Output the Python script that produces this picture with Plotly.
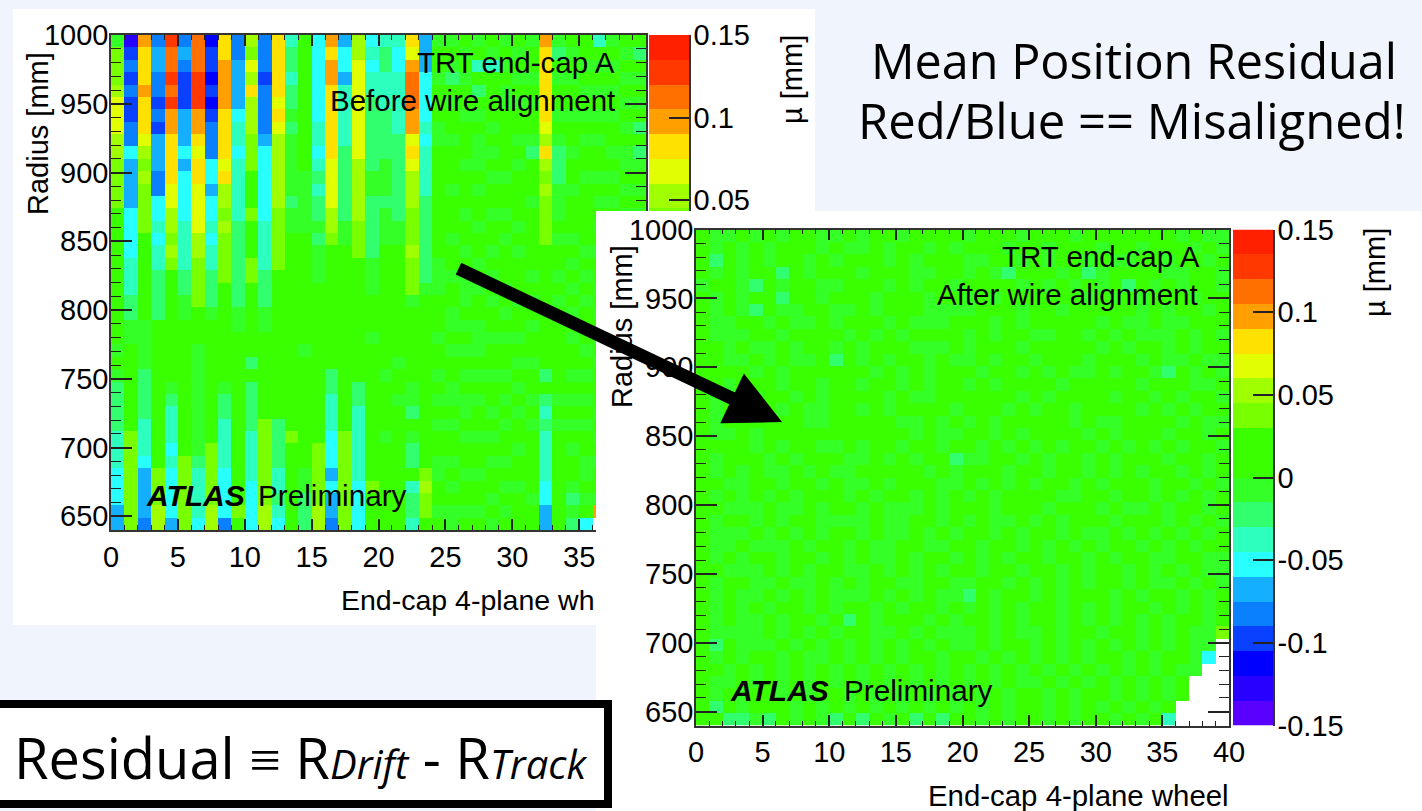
import numpy as np
import plotly.graph_objects as go

W, H = 1422, 811

# colour levels of the 20-step palette, lowest to highest
LEVEL_COLORS = ["#5a00ff", "#2800ff", "#0000ff", "#0a40ff", "#0a80ff", "#14b0ff", "#28ffff",
                "#2dffbe", "#32ff6e", "#34ff26", "#3aff00", "#3aff00", "#78ff00", "#a0ff00",
                "#e1ff00", "#ffe100", "#ffa000", "#ff7000", "#ff3800", "#ff2000"]
LEVEL_CODES = "0123456789abcdefghij"
Z_MIN, Z_MAX = -0.15, 0.15

# BEFORE alignment: one string per wheel (column), top to bottom, one level code per radial bin
before_columns = [
    "9cccd eeedd ccccb baaaa aaaaa 9a988 88777 66655",
    "13434 33446 55556 66677 78899 aaaaa aaccc ccccc",
    "gfffg fffed cdccc caaaa aaa99 99888 87776 55554",
    "45544 34355 54466 76778 888aa aaaaa aaaaa cccdd",
    "ihhih iggff ffeed dcdca aaaaa aaa98 77767 66665",
    "45433 35556 56666 77778 899aa aaaaa aaaac ccccc",
    "hhhii iggfe ffeee eddcc ccaaa 99999 99998 77776",
    "23323 23444 66566 76778 889aa aaaaa aaacc cccdd",
    "ffggg gffff efddc dcccc aaaaa aaa98 87777 66664",
    "44555 56776 77777 88888 8899a aaaaa aaaaa aaaca",
    "dcedf dddcc cbbbc bbbcc aaaaa a8a88 88777 76666",
    "44434 44456 66666 77778 8899a aaaaa acccc cccdd",
    "fffff efedd ddddc ccccb aaaaa aaaaa a8888 77876",
    "78878 89899 99989 9aaaa aaaaa aaaaa aacaa aaaaa",
    "aaaaa aaaaa a9999 9aaaa aaaaa 9aaaa aaaaa 99888",
    "66666 66776 78788 98999 aaaaa aaaaa aaacc cccdd",
    "gfggf fffff eeeed dcaaa aaaaa aa887 77666 56554",
    "56657 77778 88888 99aaa aaaaa aaaaa aaccc ccccc",
    "ddeee eeeee ddddd cccaa aaaaa aaa88 77777 76666",
    "67677 88888 89988 88899 9aaa9 aaaaa aaaaa acaaa",
    "78877 78888 99989 99aaa aaaaa aa9aa aa9aa aaaaa",
    "76677 77788 88888 99aaa aaaaa a9aa9 aaaaa aaaaa",
    "feghh hggef edddc ccdcc c9aaa aaa99 8a988 a7887",
    "55566 66767 77788 88888 9aaaa aaaaa aaaaa cdcca",
    "9aa9a aa99a aaaaa aaa99 9aaa9 aa9a9 a9aa9 9aa9a",
    "9a98a 9aa9a aa9aa a9aa9 aa99a 9aa99 a9aa9 a9a99",
    "a9a9a a9aaa 9aaa9 aa9a9 99a9a 9a9a9 9a9aa 9aa9a",
    "9a7a8 a9a99 9a9aa 9aa9a 9aa99 9a9a9 aa9aa 9aa9a",
    "a97aa aa9a9 a9aa9 aa9a9 a9aa9 aa9aa 9a9a9 aa9a9",
    "9a9a9 9aaaa a9aa9 a9aaa 9a9a9 aa9a9 a9aa9 a9a9a",
    "a9a9a 9aa9a 9aaaa 9a9aa a9aa9 a9a9a 9aa9a a9aaa",
    "9aa9a 9aa98 aaa9a aaaa9 a9a9a a9aa9 a9aaa aa9aa",
    "gffff ffedf dcdcc ccaaa aaaaa aa8a8 78777 76655",
    "98a9a a9a98 88999 a9aa9 a9aaa aaaa9 a9aaa aaaaa",
    "a9a9a a9aa9 aa9aa a9a9a 9a9a9 aa9a9 a9a9a a9898",
    "aa9a9 a9a9a a9aaa aa9a9 a9aaa 9a9a9 a9aa9 9a9a6",
    "7a9a9 a9a9a a9a9a 9a9aa 9a9a9 a9aaa 9a9a9 aa9g.",
    "9a9a9 a9aa9 a9a9a a9a9a aaaaa aaaaa aaaaa aaaaa",
    "a9a9a 9a9a9 9a9a9 aaaaa aaaaa aaaaa aaaaa aaaaa",
    "a8a9a 9a8a8 9a9a9 aaaaa aaaaa aaaaa aaaaa aaaaa",
]

# AFTER alignment: one string per radial bin (row), top to bottom, one level code per wheel
after_rows = [
    "a99a9 a9aa9 9a9aa 9aaaa 9aaa9 aaa9a aaaaa a9a99",
    "a9a9a 9aaa9 a99a9 aa9a9 aaa9a a9aaa 9aa9a aa9a9",
    "a8a9a 9aa9a 9aaa9 a9aaa 99aa9 a9aa9 a99aa 9aa9a",
    "a9a9a a8a9a aa9aa a99aa 9a98a aa9a8 9aaaa 99aa9",
    "9aa98 a9aa9 9aaa9 a9aa9 aaaa9 a9a9a 9a8a9 a9aa9",
    "a9a9a a8aa9 aaa9a aa9aa 9a9aa aaaa9 a9a9a aa9aa",
    "a9a98 a99aa 99a9a aa999 9aaa9 aa9aa aaa9a 9aa9a",
    "a99aa 9a99a 9aaa9 a999a aa9a9 aaaaa 9a99a 99aaa",
    "a999a a9aaa a9a9a 9aaaa 9a9aa 99aa9 a9a99 9a9a9",
    "aa9a9 9a9aa 9a9aa a999a 9aaa9 aaaaa 9a9aa 9a9aa",
    "aa99a 9a99a 8a9a9 aa9a9 9a9aa 9aaa9 aaa9a 99a99",
    "aaaa9 a9aaa aaa9a 9a9aa a9aa9 a9a99 a9aa9 8a9a9",
    "aa9aa a9aa9 aa9aa 9a9aa 9a9aa aa9aa aaa9a aa99a",
    "a9aa9 aa9a9 aaaa9 a99aa aaaa9 a9aaa a9aa9 a9aa9",
    "a9a9a a9a99 aa9a9 aaaa9 aaa9a 9aa9a aaa9a 9a9aa",
    "a9aaa aaa99 aaaaa 99a9a 9a9aa aaa9a 99aaa a9a99",
    "a99a9 aaaaa aaaaa a9a99 aa9a9 aaaa9 a9aaa 9aa9a",
    "aaaa9 a9aa9 9a9aa 9aa9a a9a9a 9a9aa 9a9a9 a9aa9",
    "a9aaa 9a9aa a99a9 a9aa8 99aa9 a9aa9 a9aaa 9aa9a",
    "a9a9a 99a9a 99aaa aa9a9 aaa9a a9aa9 a9a9a a9a9a",
    "aa99a a9aa9 a99a9 aaa99 a9a9a 9aa9a 9aaa9 aa9a9",
    "a9a9a 9a9aa a9a9a a9a9a 9a9aa aa99a a9aa9 a9a9a",
    "aa999 a99a9 aa9a9 99a9a aa9aa a9aaa 9a99a 9aa9a",
    "a9aa9 a9aa9 999a9 9aa9a 9a99a 9a9aa a9aaa 9a9a9",
    "a999a 9a9a9 aa9a9 9a9a9 aa9a9 aa9a9 9a9a9 a9a9a",
    "a99a9 99a9a a9a99 aa99a a9aa9 a9a9a 9aa9a 9a9aa",
    "a9a9a a9aa9 a9a99 a9aa9 a9a9a a9aa9 a9aa9 9aa99",
    "aa999 a9a9a a99a9 a9a9a a9aa9 aa9a9 aa9a9 a9a99",
    "a9aa9 9a99a 9a9aa 99aa9 9aa9a 9a9a9 aa9a9 9a9a9",
    "a9a99 a9a9a 999a9 a9a99 8a9aa 9a9aa a9a9a a9a9a",
    "a9a9a 9aa9a 9aa9a 9aa9a 9a9a9 aa9a9 a9aa9 a9a9a",
    "a9a99 a9aa9 a8a9a aa9a9 aa9a9 aa9a9 a9a9a 9aa9a",
    "a9999 a9a9a 9aa99 a9a99 9a9a9 9a9aa 9aa9a 9a99c",
    "a8a99 9a9a9 a9a9a 9a9a9 9a9aa 9a9a9 a9a9a 9a99.",
    "a9a9a a9a99 a9a9a 9aa9a a9a9a 9a9a9 aa9a9 aa96.",
    "aa9a9 a9a9a 9a9a9 a9a9a 9a9a9 a9a9a 9a9a9 a99..",
    "a99a9 a9a9a 9a9a9 a9a9a 9a9a9 9a9a9 a9a9a 9a...",
    "a9a9a a9a9a a9a9a 9a9a9 a9a9a a9a9a a9a9a 9a...",
    "a8a9a aa9a9 a9a9a 9a9a9 a9a9a a9a9a 9a9a9 a....",
    "aa889 8a9a9 8a8a9 a8a8a a9a9a a9a9a a9a9a 7....",
]

wheels = np.arange(40) + 0.5
radii = 1000 - 4.5 - 9 * np.arange(40)
x_ticks_before = [0, 5, 10, 15, 20, 25, 30, 35]
x_ticks_after = [0, 5, 10, 15, 20, 25, 30, 35, 40]
y_ticks = [650, 700, 750, 800, 850, 900, 950, 1000]
cbar_ticks_before = [0.05, 0.1, 0.15]
cbar_labels_before = ["0.05", "0.1", "0.15"]
cbar_ticks_after = [-0.15, -0.1, -0.05, 0, 0.05, 0.1, 0.15]
cbar_labels_after = ["-0.15", "-0.1", "-0.05", "0", "0.05", "0.1", "0.15"]


def level_value(code):
    if code == ".":
        return None
    step = (Z_MAX - Z_MIN) / 20
    return Z_MIN + (LEVEL_CODES.index(code) + 0.5) * step


def decode(s):
    cells = s.replace(" ", "")
    assert len(cells) == 40, s
    return [level_value(c) for c in cells]


z_before = [list(r) for r in zip(*[decode(c) for c in before_columns])]
z_after = [decode(r) for r in after_rows]
cbar_levels = [Z_MIN + (i + 0.5) * 0.015 for i in range(20)]

colorscale = []
for i, c in enumerate(LEVEL_COLORS):
    colorscale += [[i / 20, c], [(i + 1) / 20, c]]


def px(x):
    return x / W


def py(y):
    return 1 - y / H


def dom_x(a, b):
    return [px(a), px(b)]


def dom_y(top, bottom):
    return [py(bottom), py(top)]


TICK = "#222222"
FRAME = "#333333"
TICKFONT = dict(family="Liberation Sans", size=29, color="#000000")
SLIDE_BG = "#f0f4fc"

fig = go.Figure()
hm = dict(colorscale=colorscale, zmin=Z_MIN, zmax=Z_MAX, showscale=False, hoverinfo="skip")
fig.add_trace(go.Heatmap(x=wheels, y=radii, z=z_before, xaxis="x", yaxis="y", **hm))
fig.add_trace(go.Heatmap(x=[0.5], y=cbar_levels, z=[[v] for v in cbar_levels], xaxis="x2", yaxis="y2", **hm))
fig.add_trace(go.Scatter(x=[None], y=[None], xaxis="x3", yaxis="y3", showlegend=False, hoverinfo="skip"))
fig.add_trace(go.Heatmap(x=wheels, y=radii, z=z_after, xaxis="x4", yaxis="y4", **hm))
fig.add_trace(go.Heatmap(x=[0.5], y=cbar_levels, z=[[v] for v in cbar_levels], xaxis="x5", yaxis="y5", **hm))


def main_x(domain, anchor, ticks):
    return dict(domain=domain, anchor=anchor, range=[0, 40], tickvals=ticks, ticks="inside", ticklen=11,
                tickwidth=1.5, tickcolor=TICK, showline=True, mirror="ticks", linecolor=FRAME, linewidth=1.5,
                showgrid=False, zeroline=False, tickfont=TICKFONT,
                minor=dict(dtick=1, tick0=0, ticks="inside", ticklen=5, tickwidth=1.2, tickcolor=TICK, showgrid=False))


def main_y(domain, anchor):
    return dict(domain=domain, anchor=anchor, range=[640, 1000], tickvals=y_ticks, ticks="inside", ticklen=21,
                tickwidth=1.5, tickcolor=TICK, showline=True, mirror="ticks", linecolor=FRAME, linewidth=1.5,
                showgrid=False, zeroline=False, tickfont=TICKFONT, ticklabelstandoff=-5,
                minor=dict(dtick=10, tick0=0, ticks="inside", ticklen=10, tickwidth=1.2, tickcolor=TICK, showgrid=False))


def cbar_x(domain, anchor):
    return dict(domain=domain, anchor=anchor, range=[0, 1], visible=False)


def cbar_y(domain, anchor, ticks, labels):
    return dict(domain=domain, anchor=anchor, side="right", range=[Z_MIN, Z_MAX], tickvals=ticks,
                ticktext=labels, ticks="inside", ticklen=20, tickwidth=1.5, tickcolor=TICK, showline=True,
                linecolor=FRAME, linewidth=1.5, showgrid=False, zeroline=False, tickfont=TICKFONT,
                ticklabelstandoff=-3)


def note(text, x, y, xanchor="center", size=29, family="Liberation Sans", angle=0):
    return dict(text=text, x=px(x), y=py(y), xref="paper", yref="paper", showarrow=False, xanchor=xanchor,
                yanchor="middle", textangle=angle, font=dict(family=family, size=size, color="#000000"))


SUB = '<span style="font-size:40px"><i>%s</i></span>'

annotations = [
    note("TRT end-cap A", 617, 62, "right", 29.5),
    note("Before wire alignment", 617, 101, "right", 29.5),
    note("<b><i>ATLAS</i></b>", 144, 495, "left", 30),
    note("Preliminary", 256, 495, "left", 29.7),
    note("End-cap 4-plane wh", 597, 600, "right", 28.5),
    note("Radius [mm]", 38, 134, angle=-90),
    note("µ [mm]", 792, 80, angle=-90),
    note("TRT end-cap A", 1202, 256, "right", 29.5),
    note("After wire alignment", 1200, 295, "right", 29.5),
    note("<b><i>ATLAS</i></b>", 728, 690, "left", 30),
    note("Preliminary", 842, 690, "left", 29.7),
    note("End-cap 4-plane wheel", 1078, 795, size=29.4),
    note("Radius [mm]", 622, 327, angle=-90),
    note("µ [mm]", 1375, 273, angle=-90),
    note("Mean Position Residual", 1134, 60, size=48.5, family="Open Sans"),
    note("Red/Blue == Misaligned!", 1132, 120, size=49, family="Open Sans"),
    note("Residual ≡ R" + SUB % "Drift" + " - R" + SUB % "Track", 12, 757, "left", 56, "Open Sans"),
    dict(text="", x=px(782), y=py(422), xref="paper", yref="paper", showarrow=True, axref="pixel", ayref="pixel",
         ax=-325, ay=-154, arrowhead=2, arrowwidth=13, arrowsize=0.85, arrowcolor="#000000", standoff=0),
]

shapes = [
    dict(type="rect", xref="paper", yref="paper", x0=px(13), x1=px(815), y0=py(625), y1=py(9),
         fillcolor="#ffffff", line_width=0, layer="below"),
    dict(type="rect", xref="paper", yref="paper", x0=px(-12), x1=px(608), y0=py(804), y1=py(704),
         fillcolor="#ffffff", line=dict(color="#000000", width=8), layer="above"),
]

fig.update_layout(
    width=W, height=H, margin=dict(l=0, r=0, t=0, b=0, autoexpand=False), autosize=False, showlegend=False,
    paper_bgcolor=SLIDE_BG, plot_bgcolor="#ffffff",
    xaxis=main_x(dom_x(111, 646), "y", x_ticks_before), yaxis=main_y(dom_y(35, 530), "x"),
    xaxis2=cbar_x(dom_x(649, 689), "y2"),
    yaxis2=cbar_y(dom_y(35, 530), "x2", cbar_ticks_before, cbar_labels_before),
    xaxis3=dict(domain=dom_x(596, 1422), anchor="y3", visible=False, range=[0, 1]),
    yaxis3=dict(domain=dom_y(211, 811), anchor="x3", visible=False, range=[0, 1]),
    xaxis4=main_x(dom_x(696, 1229), "y4", x_ticks_after), yaxis4=main_y(dom_y(229.5, 725.5), "x4"),
    xaxis5=cbar_x(dom_x(1233, 1273), "y5"),
    yaxis5=cbar_y(dom_y(229.5, 725.5), "x5", cbar_ticks_after, cbar_labels_after),
    annotations=annotations, shapes=shapes,
)

fig.write_html("out.html", post_script="document.body.style.margin='0';document.body.style.overflow='hidden';",
               config=dict(displayModeBar=False))
